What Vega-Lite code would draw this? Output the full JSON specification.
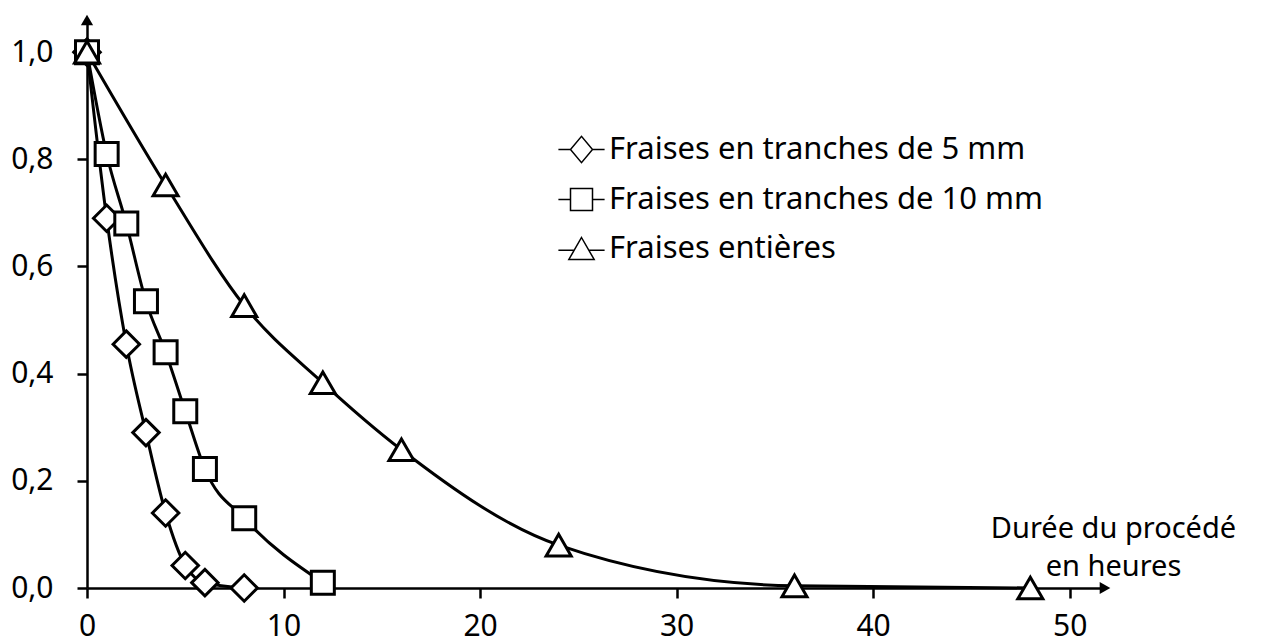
{
  "$schema": "https://vega.github.io/schema/vega-lite/v6.json",
  "width": 1018,
  "height": 568,
  "autosize": {"type": "none"},
  "padding": {"left": 87, "top": 20, "right": 171, "bottom": 55},
  "background": "white",
  "config": {
    "view": {"stroke": null},
    "font": "Noto Sans",
    "axis": {
      "domainColor": "black", "domainWidth": 2.5,
      "tickColor": "black", "tickWidth": 2.5, "tickSize": 10,
      "labelColor": "black", "labelFontSize": 30, "labelFont": "Noto Sans",
      "grid": false
    }
  },
  "datasets": {
    "mesures": [
      {"t": 0, "v": 1.0, "serie": "Fraises en tranches de 5 mm"},
      {"t": 1, "v": 0.69, "serie": "Fraises en tranches de 5 mm"},
      {"t": 2, "v": 0.455, "serie": "Fraises en tranches de 5 mm"},
      {"t": 3, "v": 0.29, "serie": "Fraises en tranches de 5 mm"},
      {"t": 4, "v": 0.14, "serie": "Fraises en tranches de 5 mm"},
      {"t": 5, "v": 0.042, "serie": "Fraises en tranches de 5 mm"},
      {"t": 6, "v": 0.01, "serie": "Fraises en tranches de 5 mm"},
      {"t": 8, "v": 0.0, "serie": "Fraises en tranches de 5 mm"},
      {"t": 0, "v": 1.0, "serie": "Fraises en tranches de 10 mm"},
      {"t": 1, "v": 0.81, "serie": "Fraises en tranches de 10 mm"},
      {"t": 2, "v": 0.68, "serie": "Fraises en tranches de 10 mm"},
      {"t": 3, "v": 0.535, "serie": "Fraises en tranches de 10 mm"},
      {"t": 4, "v": 0.44, "serie": "Fraises en tranches de 10 mm"},
      {"t": 5, "v": 0.33, "serie": "Fraises en tranches de 10 mm"},
      {"t": 6, "v": 0.222, "serie": "Fraises en tranches de 10 mm"},
      {"t": 8, "v": 0.13, "serie": "Fraises en tranches de 10 mm"},
      {"t": 12, "v": 0.01, "serie": "Fraises en tranches de 10 mm"},
      {"t": 0, "v": 1.0, "serie": "Fraises entières"},
      {"t": 4, "v": 0.752, "serie": "Fraises entières"},
      {"t": 8, "v": 0.527, "serie": "Fraises entières"},
      {"t": 12, "v": 0.383, "serie": "Fraises entières"},
      {"t": 16, "v": 0.258, "serie": "Fraises entières"},
      {"t": 24, "v": 0.08, "serie": "Fraises entières"},
      {"t": 36, "v": 0.004, "serie": "Fraises entières"},
      {"t": 48, "v": 0.0, "serie": "Fraises entières"}
    ],
    "fleches": [
      {"t": 0, "v": 1.06, "dir": "haut"},
      {"t": 51.8, "v": 0, "dir": "droite"}
    ]
  },
  "encoding": {
    "x": {
      "field": "t", "type": "quantitative",
      "scale": {"domain": [0, 51.8], "nice": false, "zero": false},
      "axis": {
        "values": [0, 10, 20, 30, 40, 50], "format": "d",
        "labelBaseline": "alphabetic", "labelPadding": 37, "labelFlush": false,
        "title": ["Durée du procédé", "en heures"],
        "titleX": 1026, "titleY": -51, "titleAlign": "center", "titleBaseline": "alphabetic",
        "titleFontSize": 29, "titleFontWeight": "normal", "titleFont": "Noto Sans",
        "titleColor": "black", "titleLineHeight": 38
      }
    },
    "y": {
      "field": "v", "type": "quantitative",
      "scale": {"domain": [0, 1.06], "nice": false},
      "axis": {
        "values": [0, 0.2, 0.4, 0.6, 0.8, 1.0],
        "labelExpr": "replace(format(datum.value, '.1f'), '.', ',')",
        "labelPadding": 24, "labelBaseline": "middle",
        "title": null
      }
    }
  },
  "layer": [
    {
      "data": {"name": "mesures"},
      "mark": {"type": "line", "interpolate": "monotone", "color": "black", "strokeWidth": 3},
      "encoding": {"detail": {"field": "serie"}}
    },
    {
      "data": {"name": "fleches"},
      "mark": {"type": "point", "filled": true, "color": "black", "size": 150, "opacity": 1},
      "encoding": {
        "shape": {
          "field": "dir", "type": "nominal",
          "scale": {"domain": ["haut", "droite"], "range": ["triangle-up", "triangle-right"]},
          "legend": null
        }
      }
    },
    {
      "data": {"name": "mesures"},
      "transform": [{"filter": "datum.serie === 'Fraises en tranches de 5 mm'"}],
      "mark": {"type": "point", "shape": "diamond", "size": 700, "filled": true, "fill": "white", "stroke": "black", "strokeWidth": 3, "opacity": 1}
    },
    {
      "data": {"name": "mesures"},
      "transform": [{"filter": "datum.serie === 'Fraises en tranches de 10 mm'"}],
      "mark": {"type": "point", "shape": "square", "size": 529, "filled": true, "fill": "white", "stroke": "black", "strokeWidth": 3, "opacity": 1}
    },
    {
      "data": {"name": "mesures"},
      "transform": [{"filter": "datum.serie === 'Fraises entières'"}],
      "mark": {"type": "point", "shape": "triangle-up", "size": 625, "filled": true, "fill": "white", "stroke": "black", "strokeWidth": 3, "opacity": 1}
    },
    {
      "data": {"name": "mesures"},
      "mark": {"type": "point", "filled": true, "fill": "white", "stroke": "black", "opacity": 0},
      "encoding": {
        "shape": {
          "field": "serie", "type": "nominal",
          "scale": {
            "domain": ["Fraises en tranches de 5 mm", "Fraises en tranches de 10 mm", "Fraises entières"],
            "range": [
              "M-2.1,0H-1L0,-1.2L1,0L0,1.2L-1,0Z M1,0H2.1",
              "M-2.1,0H-1 M-1,-1H1V1H-1Z M1,0H2.1",
              "M-2.1,0.15H-0.65 M0,-1L1.15,1H-1.15Z M0.65,0.15H2.1"
            ]
          },
          "legend": {
            "orient": "none", "legendX": 479, "legendY": 114,
            "title": null, "padding": 0,
            "labelFontSize": 31, "labelFont": "Noto Sans", "labelColor": "black",
            "labelLimit": 0,
            "symbolSize": 484, "labelOffset": 12, "rowPadding": 17,
            "encode": {
              "symbols": {
                "update": {
                  "opacity": {"value": 1},
                  "fill": {"value": "white"},
                  "stroke": {"value": "black"},
                  "strokeWidth": {"value": 3}
                }
              }
            }
          }
        }
      }
    }
  ],
  "resolve": {"scale": {"shape": "independent"}}
}
